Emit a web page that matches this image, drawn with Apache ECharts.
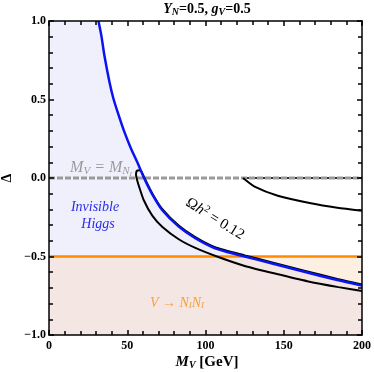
<!DOCTYPE html>
<html><head><meta charset="utf-8">
<script src="https://cdn.jsdelivr.net/npm/echarts@6/dist/echarts.min.js"></script>
<style>html,body{margin:0;padding:0;background:#fff}#c{width:374px;height:372px}</style>
</head><body><div id="c"></div>
<script>
// ---- data ----
const xTicks = [0, 50, 100, 150, 200];
const yTicks = [-1.0, -0.5, 0.0, 0.5, 1.0];

// Invisible Higgs boundary (blue)
const blueM = [31.6, 33.4, 35.4, 38.6, 41.1, 44.5, 48.1, 52.3, 57.2, 60.8, 66.0, 72.3, 82.9, 93.5, 106.1, 120.9, 125.1, 142.0, 163.1, 184.2, 200.0];
const blueD = [1.0, 0.91, 0.78, 0.613, 0.508, 0.40, 0.295, 0.19, 0.083, -0.002, -0.105, -0.204, -0.31, -0.384, -0.448, -0.49, -0.50, -0.543, -0.597, -0.65, -0.685];

// Omega h^2 = 0.12 closed contour: upper branch (right→left), hook, lower branch (left→right)
const omegaUpperM = [200.0, 184.2, 163.1, 142.0, 125.1, 106.1, 93.5, 82.9, 72.3, 66.0, 60.8, 59.0];
const omegaUpperD = [-0.678, -0.643, -0.590, -0.536, -0.493, -0.441, -0.377, -0.303, -0.197, -0.098, 0.005, 0.042];
const omegaHookM = [57.5, 56.0, 55.6, 56.2];
const omegaHookD = [0.050, 0.044, 0.02, -0.01];
const omegaLowerM = [57.4, 60.5, 66.0, 72.3, 82.9, 93.5, 108.2, 125.1, 145.0, 165.0, 185.0, 200.0];
const omegaLowerD = [-0.05, -0.14, -0.24, -0.31, -0.39, -0.445, -0.503, -0.56, -0.61, -0.657, -0.695, -0.72];

// second contour branch on the right
const rightM = [124.0, 131.4, 146.2, 167.3, 184.2, 200.0];
const rightD = [0.0, -0.055, -0.113, -0.161, -0.189, -0.208];

// reference lines
const zeroLineM = [0, 200];
const zeroLineD = [0, 0];
const zeroBlackM = [124, 200];
const zeroBlackD = [0, 0];
const decayM = [0, 200];
const decayD = [-0.5, -0.5];

// ---- build ----
const zip = (a, b) => a.map((v, i) => [v, b[i]]);
const blue = zip(blueM, blueD);
const blueRegion = [[0, 1.0]].concat(blue);
const overlapRegion = [[0, -0.5]].concat(blue.filter(p => p[1] <= -0.5));
const omega = zip(omegaUpperM, omegaUpperD).concat(zip(omegaHookM, omegaHookD), zip(omegaLowerM, omegaLowerD));

const serif = '"Liberation Serif","DejaVu Serif",serif';
const fmtY = v => { const s = Math.abs(v).toFixed(1); return v < 0 ? '\u2212' + s : s; };

function axisCommon(show) {
  return {
    z: 20,
    axisLine: { show: true, onZero: false, lineStyle: { color: '#000', width: 1.5 } },
    axisTick: { show: true, inside: true, length: 5, lineStyle: { color: '#000', width: 1.5 } },
    minorTick: { show: true, splitNumber: 5, length: 4, lineStyle: { color: '#000', width: 1.5 } },
    splitLine: { show: false },
    axisLabel: { show: show, fontFamily: serif, fontWeight: 'bold', fontSize: 12, color: '#000' }
  };
}

const xb = Object.assign(axisCommon(true), { type: 'value', position: 'bottom', min: 0, max: 200, interval: 50 });
xb.axisLabel.margin = 5;
xb.axisLabel.formatter = v => xTicks.includes(v) ? String(v) : '';
const xt = Object.assign(axisCommon(false), { type: 'value', position: 'top', min: 0, max: 200, interval: 50 });
const yl = Object.assign(axisCommon(true), { type: 'value', position: 'left', min: -1, max: 1, interval: 0.5 });
yl.axisLabel.margin = 3;
yl.axisLabel.formatter = v => yTicks.some(t => Math.abs(t - v) < 1e-9) ? fmtY(v) : '';
const yr = Object.assign(axisCommon(false), { type: 'value', position: 'right', min: -1, max: 1, interval: 0.5 });

const chart = echarts.init(document.getElementById('c'), null, { renderer: 'canvas' });
chart.setOption({
  animation: false,
  backgroundColor: '#fff',
  grid: { left: 49, right: 9, top: 21, bottom: 37 },
  xAxis: [xb, xt],
  yAxis: [yl, yr],
  series: [
    { type: 'line', data: decayM.map(m => [m, -0.5]), symbol: 'none', lineStyle: { width: 0 },
      areaStyle: { color: '#fdf0e3', opacity: 1, origin: 'start' }, z: 1 },
    { type: 'line', data: blueRegion, symbol: 'none', smooth: 0.2, lineStyle: { width: 0 },
      areaStyle: { color: '#eff0fc', opacity: 1, origin: 'start' }, z: 2 },
    { type: 'line', data: overlapRegion, symbol: 'none', smooth: 0.2, lineStyle: { width: 0 },
      areaStyle: { color: '#f4e6e2', opacity: 1, origin: 'start' }, z: 3 },
    { type: 'line', data: zip(zeroBlackM, zeroBlackD), symbol: 'none', lineStyle: { color: '#333', width: 2 }, z: 4 },
    { type: 'line', data: zip(zeroLineM, zeroLineD), symbol: 'none', lineStyle: { color: '#9a9a9a', width: 3, type: [6, 2] }, z: 5 },
    { type: 'line', data: zip(decayM, decayD), symbol: 'none', lineStyle: { color: '#ff8a00', width: 2.5 }, z: 6 },
    { type: 'line', data: zip(rightM, rightD), symbol: 'none', smooth: 0.2, lineStyle: { color: '#000', width: 2 }, z: 7 },
    { type: 'line', data: omega, symbol: 'none', smooth: 0.2, lineStyle: { color: '#000', width: 2 }, z: 7 },
    { type: 'line', data: blue, symbol: 'none', smooth: 0.2, lineStyle: { color: '#0a14f0', width: 2.5 }, z: 8 }
  ],
  graphic: [
    { type: 'text', x: 207, y: 9, z: 100, style: {
      text: '{bi|Y}{bs|N}{b|=0.5, }{bi|g}{bs|V}{b|=0.5}', align: 'center', verticalAlign: 'middle',
      rich: {
        b: { fontFamily: serif, fontWeight: 'bold', fontSize: 14, fill: '#000' },
        bi: { fontFamily: serif, fontWeight: 'bold', fontStyle: 'italic', fontSize: 14, fill: '#000' },
        bs: { fontFamily: serif, fontWeight: 'bold', fontStyle: 'italic', fontSize: 10, fill: '#000', padding: [6, 0, 0, 0] }
      } } },
    { type: 'text', x: 207, y: 362, z: 100, style: {
      text: '{bi|M}{bs|V}{b| [GeV]}', align: 'center', verticalAlign: 'middle',
      rich: {
        b: { fontFamily: serif, fontWeight: 'bold', fontSize: 15, fill: '#000' },
        bi: { fontFamily: serif, fontWeight: 'bold', fontStyle: 'italic', fontSize: 15, fill: '#000' },
        bs: { fontFamily: serif, fontWeight: 'bold', fontStyle: 'italic', fontSize: 10, fill: '#000', padding: [6, 0, 0, 0] }
      } } },
    { type: 'text', x: 7, y: 178, rotation: Math.PI / 2, z: 100, style: {
      text: 'Δ', align: 'center', verticalAlign: 'middle', font: 'bold 14px ' + serif, fill: '#000' } },
    { type: 'text', x: 101, y: 168, z: 100, style: {
      text: '{i|M}{s|V}{i| = M}{s|N}{ss|I}', align: 'center', verticalAlign: 'middle',
      rich: {
        i: { fontFamily: serif, fontStyle: 'italic', fontSize: 16, fill: '#9a9a9a' },
        s: { fontFamily: serif, fontStyle: 'italic', fontSize: 11, fill: '#9a9a9a', padding: [7, 0, 0, 0] },
        ss: { fontFamily: serif, fontStyle: 'italic', fontSize: 7, fill: '#9a9a9a', padding: [13, 0, 0, 0] }
      } } },
    { type: 'text', x: 95, y: 207, z: 100, style: {
      text: 'Invisible', align: 'center', verticalAlign: 'middle', font: 'italic 14px ' + serif, fill: '#2a2ae8' } },
    { type: 'text', x: 98, y: 224, z: 100, style: {
      text: 'Higgs', align: 'center', verticalAlign: 'middle', font: 'italic 14px ' + serif, fill: '#2a2ae8' } },
    { type: 'text', x: 215, y: 219, rotation: -0.56, z: 100, style: {
      text: '{r|Ω}{i|h}{p|2}{r| = 0.12}', align: 'center', verticalAlign: 'middle',
      rich: {
        r: { fontFamily: serif, fontSize: 15, fill: '#000' },
        i: { fontFamily: serif, fontStyle: 'italic', fontSize: 15, fill: '#000' },
        p: { fontFamily: serif, fontSize: 10, fill: '#000', padding: [0, 0, 8, 0] }
      } } },
    { type: 'text', x: 177, y: 303, z: 100, style: {
      text: '{i|V → N}{s|I}{i|N}{s|I}', align: 'center', verticalAlign: 'middle',
      rich: {
        i: { fontFamily: serif, fontStyle: 'italic', fontSize: 14, fill: '#f7a23c' },
        s: { fontFamily: serif, fontStyle: 'italic', fontSize: 9, fill: '#f7a23c', padding: [6, 0, 0, 0] }
      } } }
  ]
});
</script></body></html>
